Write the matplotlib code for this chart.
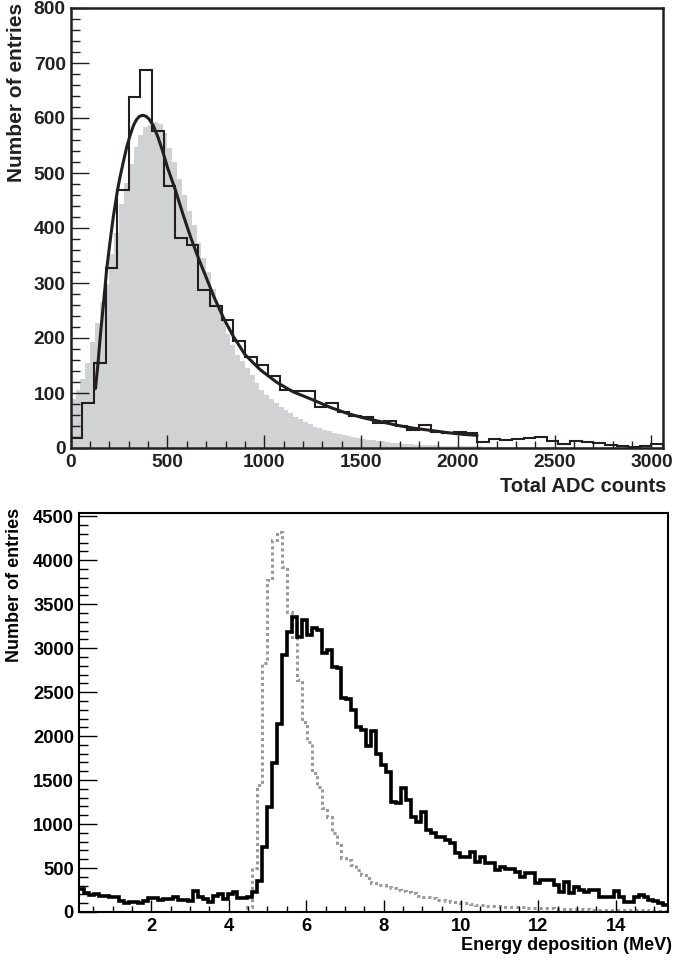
import numpy as np
import matplotlib
matplotlib.use("Agg")
import matplotlib.pyplot as plt
from matplotlib.ticker import MultipleLocator

plt.rcParams['font.family'] = ['Liberation Sans', 'DejaVu Sans']
plt.rcParams['font.weight'] = 'bold'

# ---------------- top panel data ----------------
adc_bin_width = 60
adc_counts = [19, 81, 154, 328, 470, 639, 687, 576, 477, 382,
              369, 288, 258, 233, 195, 166, 151, 131, 105, 104,
              104, 74, 81, 66, 59, 57, 45, 49, 40, 32,
              41, 30, 27, 29, 27, 11, 17, 14, 17, 18,
              20, 13, 7, 13, 11, 9, 5, 4, 2, 4, 8]

sim_bin_width = 25
sim_counts = [90, 105, 125, 155, 193, 228, 265, 298, 352, 390,
              443, 482, 517, 547, 570, 583, 588, 592, 590, 572,
              545, 520, 490, 460, 430, 405, 372, 345, 320, 290,
              262, 232, 208, 188, 170, 158, 146, 132, 118, 106,
              96, 89, 82, 75, 69, 63, 57, 52, 47, 43,
              39, 36, 33, 31, 28, 26, 24, 22, 20, 18,
              17, 15, 14, 13, 12, 11, 10, 9, 8, 7,
              7, 6, 6, 5, 5, 5, 4, 4, 4, 4,
              3, 3, 3, 3, 3, 2, 2, 2, 2, 2,
              2, 2, 2, 2, 2, 2, 2, 2, 1, 1,
              1, 1, 1, 1, 1, 1, 1, 1, 1, 1,
              1, 1, 1, 1, 1, 1, 1, 1, 1, 1, 1, 1]

fit_x = [128, 140, 152, 170, 186, 205, 220, 240, 255, 275, 290, 310, 325, 340,
         355, 372, 390, 405, 427, 450, 475, 500, 540, 580, 620, 660, 700, 740,
         790, 840, 900, 980, 1066, 1150, 1255, 1340, 1428, 1510, 1600, 1690,
         1772, 1860, 1945, 2020, 2100]
fit_y = [108, 150, 200, 265, 325, 380, 420, 465, 493, 525, 548, 572, 587, 597,
         603, 605, 603, 598, 586, 566, 540, 510, 470, 425, 383, 345, 310, 275,
         236, 203, 170, 142, 119, 102, 87, 74, 63, 55, 48, 41,
         36, 32, 28, 25, 23]

adc_ticks = [0, 500, 1000, 1500, 2000, 2500, 3000]
adc_y_ticks = [0, 100, 200, 300, 400, 500, 600, 700, 800]

# ---------------- bottom panel data ----------------
e_bin_width = 0.128
e_first_bin = 1
energy_black = [258, 212, 195, 205, 185, 180, 174, 170, 120, 106,
                110, 117, 106, 129, 160, 160, 136, 144, 150, 170,
                136, 136, 120, 242, 174, 150, 110, 180, 200, 150,
                200, 231, 160, 155, 165,
                231, 352, 742, 1197, 1690, 2133, 2920, 3185, 3356, 3128,
                3318, 3148, 3224, 3205, 2940, 2977, 2788, 2769,
                2436, 2417, 2295, 2100, 2068, 1890, 2060, 1800, 1670, 1595,
                1250, 1235, 1410, 1273, 1083, 1027, 1140, 932, 894, 856,
                856, 818,
                780, 667, 629, 629, 686, 572, 629, 553, 553, 477,
                515, 485, 485, 458, 402, 439, 439, 326, 364, 364,
                364, 307, 231, 345, 212, 288, 250, 231, 250, 250,
                174, 174, 174, 243, 174, 117, 117, 174, 193, 174,
                136, 120, 98, 80]
energy_gray = [0] * 34 + [60,
               500, 1443, 2826, 3773, 4227, 4322, 3924, 3413, 3125, 2636,
               2163, 1936, 1576, 1424, 1178, 1083, 894, 761, 610, 591,
               534, 477, 420, 383, 326, 307, 307, 288, 269, 250,
               240, 231, 212,
               182, 170, 165, 155, 140, 136, 120, 117, 115, 100,
               98, 90, 80, 80, 70, 68, 65, 62, 60, 58,
               55, 52, 50, 49, 48, 45, 42, 40, 38, 38,
               36, 34, 32, 30, 30, 28, 27, 26, 25, 24,
               23, 23, 22, 21, 20, 19, 18, 17, 16, 15, 15]

e_ticks = [2, 4, 6, 8, 10, 12, 14]
e_y_ticks = [0, 500, 1000, 1500, 2000, 2500, 3000, 3500, 4000, 4500]

INK = '#231f20'

fig = plt.figure(figsize=(6.74, 9.6), dpi=100)
W, H = 674.0, 960.0

# ---------------- top panel ----------------
ax1 = fig.add_axes([70.7 / W, 1 - 448 / H, (663 - 70.7) / W, 440 / H])
sim_edges = np.arange(len(sim_counts) + 1) * sim_bin_width
adc_edges = np.arange(len(adc_counts) + 1) * adc_bin_width
ax1.stairs(sim_counts, sim_edges, fill=True, color='#d1d2d4', lw=0)
ax1.stairs(adc_counts, adc_edges, color=INK, lw=1.5)
ax1.plot(fit_x, fit_y, color=INK, lw=2.2, solid_capstyle='round')
ax1.set_xlim(0, 3060)
ax1.set_ylim(0, 800)
ax1.set_xticks(adc_ticks)
ax1.set_yticks(adc_y_ticks)
ax1.xaxis.set_minor_locator(MultipleLocator(100))
ax1.yaxis.set_minor_locator(MultipleLocator(20))
ax1.tick_params(which='both', direction='in', top=False, right=False,
                width=1.0, color=INK, labelsize=13.8, labelcolor=INK)
ax1.tick_params(axis='y', which='major', length=12.7, pad=3.6)
ax1.tick_params(axis='y', which='minor', length=6.4)
ax1.tick_params(axis='x', which='major', length=9.5, pad=4.3)
ax1.tick_params(axis='x', which='minor', length=4.8)
for s in ax1.spines.values():
    s.set_linewidth(1.8)
    s.set_color(INK)
for lab in ax1.get_xticklabels() + ax1.get_yticklabels():
    lab.set_fontweight('bold')

fig.text(666 / W, 1 - 487 / H, 'Total ADC counts', ha='right', va='center',
         fontsize=14.5, fontweight='bold', color=INK)
fig.text(17 / W, 1 - 3 / H, 'Number of entries', ha='center', va='top',
         rotation=90, fontsize=15, fontweight='bold', color=INK)

# ---------------- bottom panel ----------------
ax2 = fig.add_axes([79 / W, 1 - 912 / H, (668.3 - 79) / W, (912 - 512.7) / H])
e_edges = (np.arange(len(energy_black) + 1) + e_first_bin) * e_bin_width
ax2.stairs(energy_gray, e_edges, color='#9a9a9a', lw=2.2,
           linestyle=(0, (1, 1)), baseline=None)
ax2.stairs(energy_black, e_edges, color='black', lw=2.6, baseline=None)
ax2.set_xlim(e_edges[0], e_edges[-1])
ax2.set_ylim(0, 4540)
ax2.set_xticks(e_ticks)
ax2.set_yticks(e_y_ticks)
ax2.xaxis.set_minor_locator(MultipleLocator(0.5))
ax2.yaxis.set_minor_locator(MultipleLocator(100))
ax2.tick_params(which='both', direction='in', top=False, right=False,
                width=1.0, color='black', labelsize=13.2)
ax2.tick_params(axis='y', which='major', length=12.7, pad=3.6)
ax2.tick_params(axis='y', which='minor', length=6.4)
ax2.tick_params(axis='x', which='major', length=8.6, pad=4.3)
ax2.tick_params(axis='x', which='minor', length=4.3)
for s in ax2.spines.values():
    s.set_linewidth(1.5)
for lab in ax2.get_xticklabels() + ax2.get_yticklabels():
    lab.set_fontweight('bold')

fig.text(672 / W, 1 - 945 / H, 'Energy deposition (MeV)', ha='right', va='center',
         fontsize=13, fontweight='bold')
fig.text(15 / W, 1 - 508 / H, 'Number of entries', ha='center', va='top',
         rotation=90, fontsize=13, fontweight='bold')

fig.savefig('out.png', dpi=100)
